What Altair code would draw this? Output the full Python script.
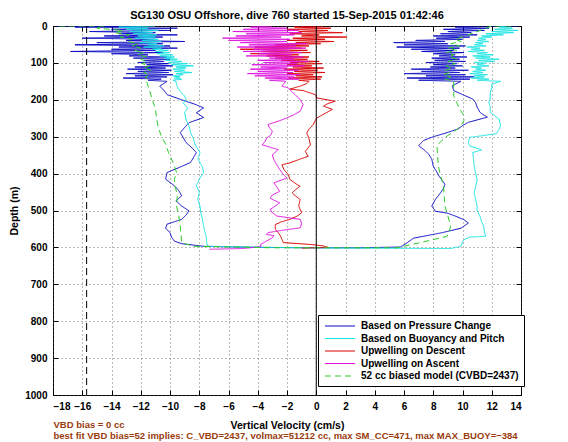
import altair as alt
import pandas as pd

TITLE = "SG130 OSU Offshore, dive 760 started 15-Sep-2015 01:42:46"
X_TITLE = "Vertical Velocity (cm/s)"
Y_TITLE = "Depth (m)"
NOTE_1 = "VBD bias = 0 cc"
NOTE_2 = "best fit VBD bias=52 implies: C_VBD=2437, volmax=51212 cc, max SM_CC=471, max MAX_BUOY=\u2212384"

SERIES = ["Based on Pressure Change", "Based on Buoyancy and Pitch",
          "Upwelling on Descent", "Upwelling on Ascent",
          "52 cc biased model (CVBD=2437)"]
COLORS = ["#0a0ac4", "#18e4e4", "#dc0000", "#e010e0", "#2ccc2c"]
DASHES = [[1, 0], [1, 0], [1, 0], [1, 0], [6, 4]]

X_TICKS = [-18, -16, -14, -12, -10, -8, -6, -4, -2, 0, 2, 4, 6, 8, 10, 12, 14]
Y_TICKS = [0, 100, 200, 300, 400, 500, 600, 700, 800, 900, 1000]
SOLID_REF = [0]
DASHED_REF = [-15.7]

# near-surface (noisy) depth grids
NOISY_DOWN = [0, 3, 6, 9, 12, 15, 18, 21, 24, 27, 30, 33, 36, 39, 42, 45, 48, 51, 54, 57,
              60, 63, 66, 69, 72, 75, 78, 81, 84, 87, 90, 93, 96, 99, 102, 105, 108, 111,
              114, 117, 120, 123, 126, 129, 132, 135, 138, 141, 144, 147, 150]
NOISY_UP = [150, 147, 144, 141, 138, 135, 132, 129, 126, 123, 120, 117, 114, 111, 108, 105,
            102, 99, 96, 93, 90, 87, 84, 81, 78, 75, 72, 69, 66, 63, 60, 57, 54, 51, 48, 45,
            42, 39, 36, 33, 30, 27, 24, 21, 18, 15, 12, 9, 6, 3, 0]
COARSE_DOWN = [0, 6, 12, 18, 24, 30, 36, 42, 48, 54, 60, 66, 72, 78, 84, 90, 96, 102, 108,
               114, 120, 126, 132, 138, 144, 150]
COARSE_UP = [150, 144, 138, 132, 126, 120, 114, 108, 102, 96, 90, 84, 78, 72, 66, 60, 54,
             48, 42, 36, 30, 24, 18, 12, 6, 0]

# ---- Based on Pressure Change (blue)
P_SURF_D = [0]
P_SURF_V = [-17.8]
P_NOISY_DOWN = [-12.0, -16.5, -9.5, -14.0, -10.0, -15.5, -11.0, -13.5, -9.5, -14.5, -10.5,
                -16.0, -11.0, -13.0, -9.0, -15.0, -10.5, -16.5, -10.0, -13.5, -9.5, -14.0,
                -11.0, -16.8, -10.5, -14.0, -11.5, -12.8, -10.2, -12.5, -10.0, -11.8, -10.4,
                -12.2, -10.1, -11.6, -9.8, -12.4, -10.3, -12.9, -9.9, -12.2, -10.1, -13.0,
                -9.8, -12.4, -10.2, -13.2, -10.6, -11.5, -10.2]
P_DOWN_D = [163, 175, 186, 200, 212, 222, 235, 248, 262, 275, 289, 302, 316, 330, 343, 357,
            370, 384, 397, 415, 433, 446, 460, 474, 488, 501, 512, 524, 537, 548, 560, 572,
            583, 590, 597, 600, 601]
P_DOWN_V = [-10.7, -10.4, -10.2, -9.2, -8.3, -7.7, -8.2, -7.7, -8.7, -9.0, -9.3, -9.1, -8.9,
            -8.5, -8.2, -8.4, -8.6, -9.4, -10.2, -10.3, -9.7, -9.4, -9.2, -9.6, -9.2, -8.7,
            -8.9, -9.2, -10.2, -10.3, -10.0, -9.9, -9.7, -9.2, -7.7, -4.0, 0.0]
P_UP_D = [601, 599, 588, 575, 561, 548, 534, 525, 515, 507, 502, 488, 470, 452, 440, 429,
          418, 407, 393, 380, 361, 348, 338, 324, 310, 300, 292, 279, 270, 261, 247, 240,
          234, 220, 208, 198, 184, 175, 162]
P_UP_V = [3.0, 5.75, 6.2, 6.65, 8.5, 9.9, 10.4, 10.1, 9.5, 8.95, 8.15, 7.9, 8.15, 8.5, 8.7,
          8.8, 8.6, 8.4, 8.2, 8.0, 7.9, 7.7, 7.45, 7.0, 7.35, 8.0, 8.7, 9.7, 10.0, 10.4, 11.7,
          11.4, 11.2, 11.0, 10.9, 10.7, 9.9, 9.4, 9.3]
P_NOISY_UP = [9.9, 7.0, 10.5, 6.2, 10.8, 7.5, 10.2, 6.0, 9.8, 7.2, 10.4, 6.5, 9.5, 7.8, 10.0,
              8.0, 9.6, 7.5, 10.2, 8.1, 9.8, 7.9, 10.3, 8.4, 9.5, 8.0, 10.1, 7.2, 9.4, 6.5,
              9.8, 5.5, 10.2, 6.0, 9.0, 5.3, 8.8, 6.8, 10.0, 8.2, 10.5, 8.0, 11.0, 8.5, 10.6,
              9.0, 11.5, 8.7, 11.8, 9.5, 11.0]
P_END_D = [0]
P_END_V = [13.8]

# ---- Based on Buoyancy and Pitch (cyan)
B_NOISY_DOWN = [-11.0, -13.5, -11.5, -13.0, -10.8, -12.8, -11.2, -12.5, -10.9, -12.2, -11.0,
                -12.4, -10.8, -11.9, -10.6, -12.1, -10.9, -11.5, -10.4, -11.8, -10.6, -11.2,
                -10.1, -11.0, -10.0, -10.9, -9.8, -10.7, -9.7, -10.4, -9.5, -10.3, -9.2,
                -10.1, -8.8, -9.9, -8.4, -9.6, -8.9, -9.8, -9.0, -9.7, -8.5, -9.6, -9.1,
                -9.8, -9.3, -9.7, -9.2, -9.8, -9.6]
B_DOWN_D = [165, 177, 190, 200, 209, 222, 235, 254, 270, 289, 305, 320, 343, 360, 380, 397,
            415, 433, 450, 470, 488, 505, 520, 542, 560, 575, 587, 597, 600, 602]
B_DOWN_V = [-9.5, -9.3, -9.0, -8.9, -9.1, -8.8, -9.0, -8.9, -8.7, -8.6, -8.4, -8.3, -7.95,
            -8.1, -7.8, -7.7, -8.0, -8.2, -8.0, -8.1, -7.95, -7.9, -7.8, -7.7, -7.6, -7.5,
            -7.5, -7.4, -3.0, 2.0]
B_UP_D = [603, 597, 585, 579, 572, 570, 560, 543, 530, 516, 500, 488, 470, 452, 435, 416,
          400, 380, 360, 343, 336, 334, 325, 316, 302, 292, 280, 270, 252, 234, 220, 207,
          195, 180, 168, 158]
B_UP_V = [9.2, 9.9, 10.0, 10.1, 10.5, 11.6, 11.5, 11.45, 11.3, 11.2, 11.0, 11.0, 10.9, 10.8,
          10.9, 11.0, 10.9, 10.8, 10.75, 10.7, 11.3, 11.2, 10.5, 10.4, 10.5, 12.3, 12.5, 12.6,
          12.5, 11.9, 11.9, 11.8, 11.9, 11.9, 12.0, 12.0]
B_NOISY_UP = [12.6, 11.0, 11.8, 10.6, 11.5, 10.8, 11.7, 10.5, 11.4, 10.7, 11.6, 10.9, 11.3,
              10.6, 11.8, 11.0, 11.5, 10.8, 12.2, 11.1, 12.5, 10.9, 11.9, 10.7, 12.1, 11.0,
              11.7, 10.4, 11.5, 10.6, 11.2, 10.3, 11.6, 10.8, 11.4, 10.9, 11.8, 11.0, 11.6,
              11.1, 12.0, 11.3, 12.8, 11.6, 13.5, 12.0, 13.8, 12.2, 13.4, 12.5, 13.0]

# ---- Upwelling on Descent (red)
R_NOISY = [0.5, -1.5, 1.0, -2.0, 0.8, -1.2, 1.8, -1.8, 0.2, -1.0, 2.1, -1.6, 0.6, -2.0, 1.2,
           -1.4, 0.3, -2.8, -0.5, -4.2, -1.0, -5.2, -0.6, -3.8, -0.4, -4.5, -1.2, -3.4, -0.5,
           -2.8, -0.6, -2.4, 0.2, -1.8, 0.4, -2.0, -0.3, -1.6, 0.5, -2.2, 0.1, -1.5, 0.6,
           -2.0, -0.2, -1.4, 0.4, -1.9, 0.3, -1.2, -0.5]
R_D = [156, 163, 171, 175, 186, 195, 204, 210, 217, 226, 237, 249, 258, 267, 280, 290, 305,
       322, 340, 353, 362, 371, 376, 390, 403, 416, 430, 434, 443, 452, 461, 470, 488, 506,
       515, 524, 531, 538, 551, 560, 569, 587, 592, 596, 600, 602]
R_V = [-0.65, -1.1, -1.8, -0.9, -0.07, 0.05, 1.3, 0.8, 0.5, 1.1, 0.6, 0.05, -0.1, -0.2, -0.5,
       -0.65, -0.5, -0.4, -0.75, -0.55, -1.2, -1.8, -2.35, -2.2, -1.9, -1.8, -1.3, -1.1, -1.4,
       -1.65, -1.4, -1.1, -1.2, -1.0, -1.3, -1.8, -2.4, -2.8, -2.8, -2.6, -2.45, -2.25, -0.4,
       0.5, 0.8, -1.0]

# ---- Upwelling on Ascent (magenta)
M_D = [605, 603, 598, 592, 585, 574, 568, 565, 560, 553, 547, 535, 524, 515, 506, 497, 488,
       479, 472, 466, 458, 448, 436, 425, 412, 400, 389, 376, 362, 349, 335, 328, 322, 313,
       304, 295, 285, 276, 267, 258, 249, 240, 231, 222, 213, 206, 199, 192, 186, 177, 168,
       163, 156]
M_V = [-7.3, -5.0, -3.8, -3.8, -3.5, -3.0, -2.9, -3.4, -3.3, -2.2, -1.1, -1.0, -1.1, -2.7,
       -3.0, -3.15, -2.8, -2.5, -2.9, -3.15, -3.0, -2.5, -2.7, -2.9, -2.0, -2.3, -2.5, -2.7,
       -2.9, -3.0, -2.6, -3.2, -3.7, -3.5, -3.4, -3.1, -3.0, -3.2, -3.3, -2.6, -2.0, -1.5,
       -1.1, -1.0, -0.9, -1.0, -1.1, -1.3, -1.45, -1.7, -1.9, -2.35, -2.2]
M_NOISY = [-2.1, -3.2, -1.2, -3.5, -1.5, -4.2, -1.1, -4.7, -1.6, -4.0, -1.2, -4.5, -2.0, -3.8,
           -0.8, -4.4, -1.3, -3.6, -0.5, -4.0, -1.5, -3.2, -0.9, -4.8, -1.7, -3.9, -1.0, -5.0,
           -1.8, -4.3, -0.7, -5.4, -1.4, -4.6, -0.6, -5.2, -2.0, -6.0, -1.8, -6.4, -2.4,
           -5.5, -1.5, -4.8, -1.0, -5.7, -1.2, -5.0, -2.0, -4.5, -3.0]

# ---- 52 cc biased model (green dashed)
G_SURF_D = [0]
G_SURF_V = [-17.6]
G_NOISY_DOWN = [-14.5, -15.0, -13.2, -13.8, -12.8, -13.4, -12.6, -12.9, -12.2, -12.6, -12.0,
                -12.4, -11.8, -12.2, -11.6, -12.0, -11.6, -11.9, -11.4, -11.8, -11.3, -11.8,
                -11.4, -11.7, -11.5, -11.6]
G_DOWN_D = [175, 200, 225, 254, 275, 298, 320, 343, 370, 397, 415, 433, 460, 488, 515, 542,
            565, 587, 597, 601]
G_DOWN_V = [-11.4, -11.2, -11.0, -10.9, -10.8, -10.6, -10.3, -10.1, -9.8, -9.55, -9.7, -9.65,
            -9.5, -9.55, -9.4, -9.3, -9.25, -9.2, -8.4, -3.0]
G_UP_D = [601, 588, 570, 543, 515, 488, 460, 433, 405, 380, 352, 325, 310, 298, 284, 270,
          256, 243, 225, 207, 190, 170]
G_UP_V = [5.5, 7.0, 8.95, 9.2, 9.0, 8.8, 8.75, 8.7, 8.5, 8.35, 8.3, 8.25, 8.6, 8.95, 9.5,
          9.9, 10.1, 10.1, 9.8, 9.6, 9.4, 9.4]
G_NOISY_UP = [9.4, 8.8, 9.2, 8.7, 9.1, 8.8, 9.3, 8.9, 9.5, 9.0, 9.6, 9.1, 9.4, 8.9, 9.6, 9.0,
              9.8, 9.2, 9.9, 9.5, 10.0, 10.4, 10.8, 11.2, 11.6, 12.0]
G_END_D = [0]
G_END_V = [13.6]

rows = []


def add(name, depths, vels):
    for d, v in zip(depths, vels):
        rows.append({"series": name, "depth": d, "vel": v, "k": len(rows)})


add(SERIES[0], P_SURF_D, P_SURF_V)
add(SERIES[0], NOISY_DOWN, P_NOISY_DOWN)
add(SERIES[0], P_DOWN_D, P_DOWN_V)
add(SERIES[0], P_UP_D, P_UP_V)
add(SERIES[0], NOISY_UP, P_NOISY_UP)
add(SERIES[0], P_END_D, P_END_V)

add(SERIES[1], NOISY_DOWN, B_NOISY_DOWN)
add(SERIES[1], B_DOWN_D, B_DOWN_V)
add(SERIES[1], B_UP_D, B_UP_V)
add(SERIES[1], NOISY_UP, B_NOISY_UP)

add(SERIES[2], NOISY_DOWN, R_NOISY)
add(SERIES[2], R_D, R_V)

add(SERIES[3], M_D, M_V)
add(SERIES[3], NOISY_UP, M_NOISY)

add(SERIES[4], G_SURF_D, G_SURF_V)
add(SERIES[4], COARSE_DOWN, G_NOISY_DOWN)
add(SERIES[4], G_DOWN_D, G_DOWN_V)
add(SERIES[4], G_UP_D, G_UP_V)
add(SERIES[4], COARSE_UP, G_NOISY_UP)
add(SERIES[4], G_END_D, G_END_V)

df = pd.DataFrame(rows)

W, H = 468, 369
FONT = "Liberation Sans"

xscale = alt.Scale(domain=[-18, 14], nice=False, zero=False)
yscale = alt.Scale(domain=[0, 1000], nice=False, zero=False, reverse=True)

legend = alt.Legend(orient="none", legendX=265, legendY=289, title=None,
                    fillColor="white", strokeColor="black", padding=5,
                    labelFont=FONT, labelFontSize=10, labelFontWeight="bold",
                    labelColor="black", labelLimit=400, symbolType="M-3,0H3",
                    symbolSize=100, symbolStrokeWidth=1.2, rowPadding=1.5,
                    symbolOffset=11, labelOffset=15)
color = alt.Color("series:N", scale=alt.Scale(domain=SERIES, range=COLORS), legend=legend)
dash = alt.StrokeDash("series:N", scale=alt.Scale(domain=SERIES, range=DASHES), legend=legend)


def ticks_axis(orient, values):
    return alt.Axis(orient=orient, values=values, labels=False, grid=False, domain=False,
                    ticks=True, tickSize=5, offset=-5, tickColor="black", tickWidth=1,
                    title=None)


def line_layer(names, xaxis, yaxis):
    return alt.Chart(df).transform_filter(
        alt.FieldOneOfPredicate(field="series", oneOf=names)
    ).mark_line(strokeWidth=1, clip=True).encode(
        x=alt.X("vel:Q", scale=xscale, axis=xaxis),
        y=alt.Y("depth:Q", scale=yscale, axis=yaxis),
        color=color,
        strokeDash=dash,
        order=alt.Order("k:Q"),
    )


main_x = alt.Axis(orient="bottom", values=X_TICKS, grid=True, ticks=False, domain=False,
                  labelPadding=6, title=X_TITLE, titlePadding=9, format="d")
main_y = alt.Axis(orient="left", values=Y_TICKS, grid=True, ticks=False, domain=False,
                  labelPadding=6, title=Y_TITLE, titlePadding=5, format="d")

layer1 = line_layer(SERIES[0:2], main_x, main_y)
layer2 = line_layer(SERIES[2:4], ticks_axis("top", X_TICKS), ticks_axis("right", Y_TICKS))
layer3 = line_layer(SERIES[4:5], ticks_axis("bottom", X_TICKS), ticks_axis("left", Y_TICKS))

solid = alt.Chart(pd.DataFrame({"x": SOLID_REF})).mark_rule(
    color="black", strokeWidth=1).encode(x=alt.X("x:Q", scale=xscale, axis=None))
dashed = alt.Chart(pd.DataFrame({"x": DASHED_REF})).mark_rule(
    color="black", strokeWidth=1, strokeDash=[7, 4]).encode(
    x=alt.X("x:Q", scale=xscale, axis=None))

note1 = alt.Chart(pd.DataFrame({"t": [NOTE_1]})).mark_text(
    align="left", baseline="middle", font=FONT, fontSize=9.5, fontWeight="bold",
    color="#9a3c0e").encode(text="t:N", x=alt.value(0.5), y=alt.value(399))
note2 = alt.Chart(pd.DataFrame({"t": [NOTE_2]})).mark_text(
    align="left", baseline="middle", font=FONT, fontSize=9.5, fontWeight="bold",
    color="#9a3c0e").encode(text="t:N", x=alt.value(0.5), y=alt.value(409.5))

chart = alt.layer(layer1, layer2, layer3, solid, dashed, note1, note2).resolve_axis(
    x="independent", y="independent"
).properties(
    width=W, height=H,
    title=alt.TitleParams(TITLE, font=FONT, fontSize=11, fontWeight="bold",
                          color="black", anchor="middle", offset=0),
    autosize=alt.AutoSizeParams(type="none"),
    padding={"left": 45, "top": 18, "right": 39, "bottom": 47},
    background="white",
).configure_view(
    stroke="black", strokeWidth=1
).configure_axis(
    labelFont=FONT, labelFontSize=10, labelFontWeight="bold", labelColor="black",
    titleFont=FONT, titleFontSize=10.5, titleFontWeight="bold", titleColor="black",
    gridColor="#555555", gridDash=[1, 3], gridWidth=0.8, gridOpacity=1,
)

chart.save("out.html", embed_options={"renderer": "svg", "actions": False})
